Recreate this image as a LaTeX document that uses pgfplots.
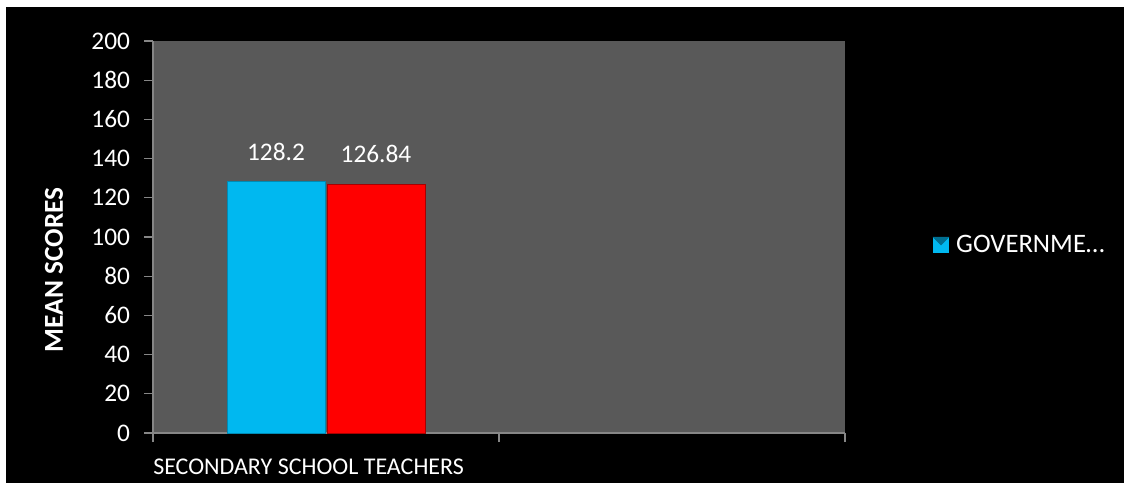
\documentclass[border=0pt]{standalone}
\usepackage{pgfplots}
\pgfplotsset{compat=1.18}
\usepackage{fontspec}
\setmainfont{Carlito}
\definecolor{cblue}{RGB}{0,184,240}
\definecolor{cred}{RGB}{255,0,0}
\definecolor{plotgray}{RGB}{89,89,89}
\definecolor{axisgray}{RGB}{134,134,134}
\begin{document}
\begin{tikzpicture}
\fill[white] (0pt,0pt) rectangle (843pt,362.25pt);
\fill[black] (4.5pt,0pt) rectangle (843pt,357pt);
\begin{axis}[
  at={(114.75pt,37.5pt)}, anchor=south west,
  scale only axis, width=519pt, height=294pt,
  xmin=0, xmax=2, ymin=0, ymax=200,
  xtick={0,1,2}, xticklabels={},
  ytick={0,20,...,200},
  axis x line*=bottom, axis y line*=left,
  axis background/.style={fill=plotgray},
  axis line style={axisgray, line width=0.9pt},
  tick style={axisgray, line width=0.9pt},
  major tick length=6.75pt, tick align=outside,
  /pgf/number format/assume math mode=true,
  ticklabel style={text=white, font=\fontsize{19}{22}\selectfont},
  yticklabel style={xshift=-7pt},
  ybar=1.5pt, bar width=73.5pt,
  nodes near coords,
  every node near coord/.append style={text=white, font=\fontsize{19}{22}\selectfont, yshift=12.5pt},
  legend entries={\hspace{3.5pt}GOVERNME…},
  legend style={at={(1.127,0.48)}, anchor=west, fill=none, draw=none, text=white, font=\fontsize{20}{23}\selectfont, inner sep=0pt},
  legend image code/.code={\fill[cblue] (0pt,-5.6pt) rectangle (11.2pt,5.6pt); \fill[cblue!60!black] (0pt,5.6pt) -- (5.6pt,0pt) -- (11.2pt,5.6pt) -- cycle;},
  clip=false,
]
\addplot[fill=cblue, draw=cblue!75!black, line width=0.6pt] coordinates {(0.5,128.2)};
\addplot[fill=cred, draw=cred!65!black, line width=0.6pt] coordinates {(0.5,126.84)};
\end{axis}
\node[anchor=west, text=white, font=\fontsize{18}{21}\selectfont, inner sep=0pt] at (114.75pt,12.5pt) {SECONDARY SCHOOL TEACHERS};
\node[rotate=90, text=white, font=\fontsize{20.5}{24}\selectfont\bfseries, inner sep=0pt] at (40.5pt,160pt) {MEAN SCORES};
\path[use as bounding box] (0pt,0pt) rectangle (843pt,362.25pt);
\end{tikzpicture}
\end{document}
